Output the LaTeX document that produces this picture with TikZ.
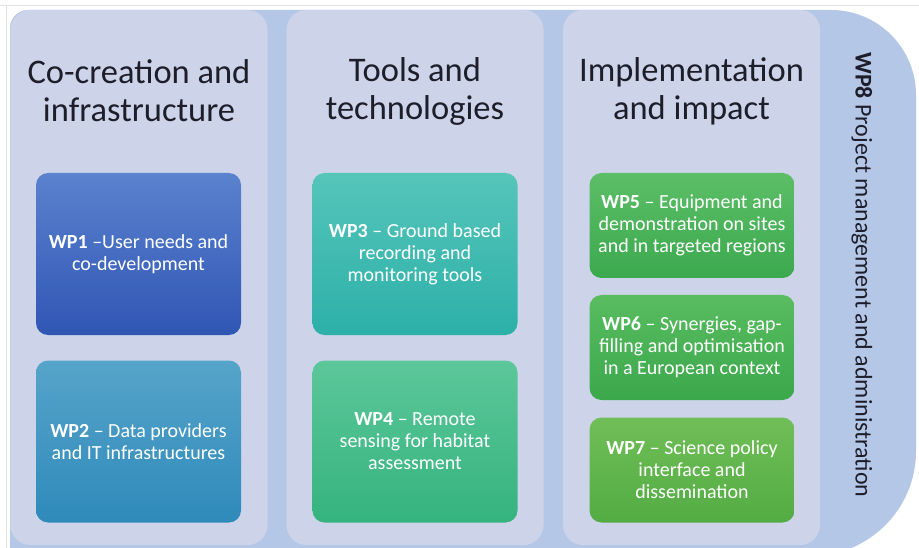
\documentclass[tikz,border=0pt]{standalone}
\usepackage{fontspec}
\setmainfont{Carlito}
\definecolor{bgblue}{HTML}{B4C7E7}
\definecolor{panelc}{HTML}{CDD4EA}
\definecolor{titlec}{HTML}{1E1E2A}
\definecolor{frame}{HTML}{E2E2E2}
\definecolor{aT}{HTML}{5A82CE}\definecolor{aB}{HTML}{3056B4}
\definecolor{bT}{HTML}{56A4CA}\definecolor{bB}{HTML}{2F8ABA}
\definecolor{cT}{HTML}{56C5BA}\definecolor{cB}{HTML}{2CB0A8}
\definecolor{dT}{HTML}{5CC79A}\definecolor{dB}{HTML}{35B37E}
\definecolor{eT}{HTML}{5CBE66}\definecolor{eB}{HTML}{3CA94F}
\definecolor{fT}{HTML}{59BC60}\definecolor{fB}{HTML}{3BA84C}
\definecolor{gT}{HTML}{70BE58}\definecolor{gB}{HTML}{53AC43}
\begin{document}
\begin{tikzpicture}[x=1pt,y=-1pt,
  panel/.style={fill=panelc, rounded corners=20pt, minimum width=257pt, minimum height=535pt, inner sep=0pt},
  title/.style={text=titlec, align=center, font=\fontsize{34.5}{38}\selectfont},
  wpbox/.style={rounded corners=12pt, minimum width=205pt, inner sep=0pt, text=white, align=center,
    font=\fontsize{20}{22}\selectfont},
  tall/.style={minimum height=162pt},
  short/.style={minimum height=105pt}]
\useasboundingbox (0,0) rectangle (919,548);
\fill[white] (0,0) rectangle (919,548);
\draw[frame, line width=1pt] (0,6) -- (919,6);
\draw[frame, line width=1pt] (6,6) -- (6,548);
% background
\fill[bgblue] (10,560) {[rounded corners=18pt] -- (10,10)} {[rounded corners=85pt] -- (916,10)} {[rounded corners=105pt] -- (916,556) -- (10,556)} -- cycle;
% panels
\node[panel] (p1) at (139,277.5) {};
\node[panel] (p2) at (415,277.5) {};
\node[panel] (p3) at (691.5,277.5) {};
% titles
\node[title] (t1) at (139,91) {Co-creation and\\infrastructure};
\node[title] (t2) at (415,91) {Tools and\\technologies};
\node[title] (t3) at (691.5,91) {Implementation\\and impact};
% boxes
\node[wpbox, tall, top color=aT, bottom color=aB] (wp1) at (138.5,254) {\textbf{WP1} –User needs and\\co-development};
\node[wpbox, tall, top color=bT, bottom color=bB] (wp2) at (138.5,441.5) {\textbf{WP2} – Data providers\\and IT infrastructures};
\node[wpbox, tall, top color=cT, bottom color=cB] (wp3) at (415,254) {\textbf{WP3} – Ground based\\recording and\\monitoring tools};
\node[wpbox, tall, top color=dT, bottom color=dB] (wp4) at (415,441.5) {\textbf{WP4} – Remote\\sensing for habitat\\assessment};
\node[wpbox, short, top color=eT, bottom color=eB] (wp5) at (692,225.5) {\textbf{WP5} – Equipment and\\demonstration on sites\\and in targeted regions};
\node[wpbox, short, top color=fT, bottom color=fB] (wp6) at (692,347.5) {\textbf{WP6} – Synergies, gap-\\filling and optimisation\\in a European context};
\node[wpbox, short, top color=gT, bottom color=gB] (wp7) at (692,470) {\textbf{WP7} – Science policy\\interface and\\dissemination};
% WP8
\node[text=titlec, rotate=-90, font=\fontsize{24}{28}\selectfont] (wp8) at (862,275) {\textbf{WP8} Project management and administration};
\end{tikzpicture}
\end{document}
